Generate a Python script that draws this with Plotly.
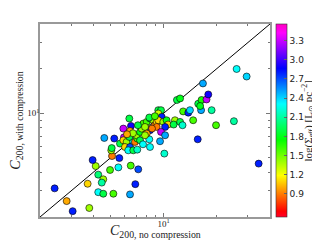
import plotly.graph_objects as go

# C200 without compression (x), with compression (y), and log(Sigma_eff) (colour)
c200_no_comp = [2.42, 2.83, 3.06, 3.80, 3.72, 4.27, 4.56, 4.47, 4.27, 4.56,
                5.20, 6.46, 6.92, 6.52, 7.19, 5.55, 4.98, 4.13, 3.97, 5.11,
                5.06, 4.62, 5.26, 5.97, 5.67, 5.92, 6.18, 6.74, 6.05, 6.46,
                6.31, 6.74, 7.10, 5.09, 5.62, 6.89, 7.10, 7.04, 7.36, 7.52,
                7.68, 8.03, 8.38, 8.75, 8.38, 8.30, 8.38, 7.85, 8.03, 8.93,
                9.14, 9.33, 6.40, 5.92, 6.54, 6.46, 6.40, 8.30, 11.9, 12.4,
                9.67, 9.33, 9.76, 9.33, 9.14, 9.96, 10.4, 10.6, 11.6, 11.4,
                10.2, 9.67, 10.2, 9.55, 10.1, 12.4, 12.8, 12.9, 13.8, 14.1,
                14.7, 15.6, 15.7, 16.4, 17.5, 17.9, 16.3, 18.7, 25.9, 29.5,
                16.7, 25.0, 19.8, 34.5, 16.1, 7.36, 7.85, 8.60, 7.65, 7.16,
                6.71, 6.21, 8.93]
c200_with_comp = [3.12, 2.56, 2.19, 2.30, 3.35, 3.86, 3.59, 3.41, 2.94, 2.87,
                  2.87, 2.84, 3.33, 4.44, 4.19, 4.32, 4.15, 4.41, 4.84, 5.15,
                  5.63, 6.82, 6.76, 6.89, 6.25, 6.58, 6.41, 6.48, 5.93, 5.93,
                  5.63, 5.63, 5.69, 5.83, 4.99, 6.41, 6.76, 7.11, 7.49, 7.89,
                  8.53, 8.75, 9.22, 8.98, 7.69, 6.68, 5.93, 8.09, 7.30, 8.31,
                  8.75, 10.5, 9.22, 7.89, 8.22, 7.60, 6.93, 9.37, 12.3, 12.6,
                  10.5, 9.97, 9.46, 8.98, 8.09, 8.75, 8.98, 8.40, 8.98, 8.40,
                  8.09, 7.49, 7.11, 6.48, 5.35, 8.75, 8.31, 10.3, 10.1, 10.5,
                  8.98, 6.68, 11.6, 12.3, 12.4, 13.4, 10.5, 10.5, 19.9, 17.7,
                  15.9, 8.85, 8.31, 4.58, 11.2, 6.58, 7.11, 7.89, 6.18, 8.31,
                  7.34, 7.22, 9.56]
log_sigma_eff = [2.8, 1.0, 2.8, 1.4, 1.1, 2.0, 1.4, 2.1, 2.3, 1.9,
                 1.6, 2.5, 2.8, 1.6, 2.7, 2.3, 1.6, 1.4, 2.8, 0.9,
                 1.4, 2.5, 2.8, 3.3, 1.9, 1.1, 1.4, 2.3, 1.1, 2.7,
                 2.3, 1.9, 2.2, 1.9, 2.8, 0.9, 1.6, 1.4, 1.8, 1.4,
                 1.6, 1.6, 1.9, 1.4, 2.8, 2.3, 2.3, 1.4, 1.0, 0.9,
                 1.1, 1.9, 1.9, 3.3, 2.9, 1.0, 1.9, 1.9, 1.9, 1.8,
                 1.9, 1.3, 2.8, 1.1, 0.9, 1.4, 1.8, 1.1, 1.4, 1.9,
                 2.8, 3.3, 2.5, 2.5, 2.2, 1.9, 2.2, 1.6, 2.8, 2.4,
                 1.6, 2.8, 1.9, 1.7, 3.3, 2.9, 2.5, 2.1, 2.3, 2.4,
                 2.5, 2.1, 1.6, 2.8, 1.8, 1.9, 1.4, 0.9, 2.3, 1.9,
                 1.4, 1.0, 1.6]

one_to_one = [2, 40]
cbar_ticks = [0.9, 1.2, 1.5, 1.8, 2.1, 2.4, 2.7, 3.0, 3.3]
minor_ticks = [3, 4, 5, 6, 7, 8, 9, 20, 30, 40]

# gist_rainbow colormap
gist_rainbow = [
    [0.000, "rgb(255,0,41)"], [0.030, "rgb(255,0,0)"], [0.215, "rgb(255,255,0)"],
    [0.400, "rgb(0,255,0)"], [0.586, "rgb(0,255,255)"], [0.770, "rgb(0,0,255)"],
    [0.954, "rgb(255,0,255)"], [1.000, "rgb(255,0,191)"],
]

serif = "Liberation Serif"

fig = go.Figure()
fig.add_trace(go.Scatter(
    x=one_to_one, y=one_to_one, mode="lines",
    line=dict(color="black", width=1), hoverinfo="skip", showlegend=False))
fig.add_trace(go.Scatter(
    x=c200_no_comp, y=c200_with_comp, mode="markers", showlegend=False,
    marker=dict(size=7, color=log_sigma_eff, colorscale=gist_rainbow,
                cmin=0.54, cmax=3.56,
                line=dict(color="black", width=0.6),
                colorbar=dict(
                    x=1.026, xanchor="left", y=0.5, yanchor="middle",
                    len=1, lenmode="fraction", thickness=11, ypad=0, xpad=0,
                    outlinewidth=0.6, outlinecolor="#333",
                    tickvals=cbar_ticks, ticktext=[f"{t:.1f}" for t in cbar_ticks],
                    ticks="inside", ticklen=3, tickcolor="#666",
                    tickfont=dict(family="DejaVu Sans", size=9, color="#222")))))

axis_common = dict(
    type="log", showgrid=False, zeroline=False,
    showline=True, linecolor="#999", linewidth=1.5, mirror="allticks",
    ticks="inside", ticklen=4, tickcolor="#777",
    tickvals=[10], ticktext=["10<sup>1</sup>"],
    tickfont=dict(family=serif, size=9, color="#222"),
    ticklabelstandoff=-3,
    minor=dict(tickvals=minor_ticks, ticks="inside", ticklen=2, tickcolor="#777"),
    range=[0.301, 1.602],
)

fig.update_layout(
    width=320, height=240,
    margin=dict(l=32, r=58, t=16, b=31, autoexpand=False),
    paper_bgcolor="white", plot_bgcolor="white",
    xaxis=dict(axis_common),
    yaxis=dict(axis_common,
               title=dict(text="<i>C</i><sub>200, with compression</sub>",
                          font=dict(family=serif, size=14, color="#222"), standoff=4)),
    annotations=[
        dict(text="<i>C</i><sub>200, no compression</sub>", xref="paper", yref="paper",
             x=0.5, y=0, yshift=-14, xanchor="center", yanchor="middle", showarrow=False,
             font=dict(family=serif, size=14, color="#222")),
        dict(text="log(Σ<sub>eff</sub>) [L<sub>⊙</sub> pc<sup>−2</sup>]",
             xref="paper", yref="paper", x=1.165, y=0.5, textangle=-90,
             xanchor="center", yanchor="middle", showarrow=False,
             font=dict(family=serif, size=11, color="#222")),
    ],
)

fig.write_html("out.html")
